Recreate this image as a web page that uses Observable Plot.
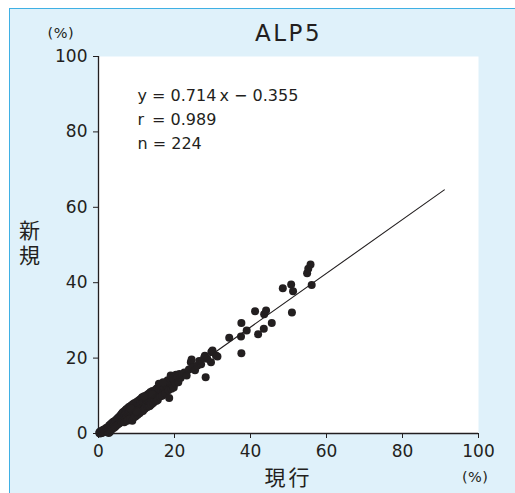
<!DOCTYPE html>
<html>
<head>
<meta charset="utf-8">
<script src="https://cdn.jsdelivr.net/npm/d3@7"></script>
<script src="https://cdn.jsdelivr.net/npm/@observablehq/plot@0.6"></script>
<style>
  html, body { margin: 0; padding: 0; background: #ffffff; }
  #wrap { position: relative; width: 515px; height: 493px; overflow: hidden; }
  #panel { position: absolute; left: 9px; top: 8px; width: 540px; height: 520px;
           background: #dff1fa; border-left: 1.5px solid #3fb0e4; border-top: 1.5px solid #3fb0e4; }
  #wrap svg { position: absolute; left: 0; top: 0; }
</style>
</head>
<body>
<div id="wrap"><div id="panel"></div></div>
<script>
const title = "ALP5";
const xLabel = "現行";
const yLabel = "新規";
const unitLabel = "(%)";
const xTicks = [0, 20, 40, 60, 80, 100];
const yTicks = [0, 20, 40, 60, 80, 100];
const slope = 0.714;
const intercept = -0.355;
const fitRange = [0.5, 91];
const statsLines = ["y = 0.714\u2009x \u2212 0.355", "r\u2002= 0.989", "n = 224"];

// 現行 (current method) values, %
const current = [
  0.2,0.3,0.4,0.5,0.6,0.7,0.8,0.9,1.0,1.1,1.2,1.3,1.4,1.5,1.6,1.7,1.8,1.9,2.0,2.1,2.2,2.3,2.4,2.5,2.6,
  2.7,2.7,2.8,2.9,3.0,3.0,3.1,3.2,3.3,3.4,3.5,3.6,3.7,3.8,3.9,4.0,4.1,4.2,4.3,4.4,4.5,4.6,4.7,4.8,4.9,5.0,5.1,5.2,5.3,5.4,5.5,5.6,5.7,5.8,5.9,6.0,6.0,
  6.1,6.2,6.3,6.4,6.5,6.6,6.7,6.8,6.9,7.0,7.1,7.2,7.3,7.4,7.5,7.6,7.7,7.8,7.9,8.0,8.1,8.2,8.3,8.4,8.5,8.6,8.7,8.8,8.9,9.0,9.1,9.2,9.3,9.4,9.5,9.6,9.7,9.8,9.9,10.0,
  10.1,10.2,10.3,10.4,10.5,10.6,10.7,10.8,10.9,11.0,11.1,11.2,11.3,11.4,11.5,11.6,11.7,11.8,11.9,12.0,12.1,12.2,12.3,12.4,12.5,12.6,12.7,12.8,12.9,13.0,13.1,13.2,13.3,13.4,13.5,13.6,13.7,13.8,13.9,
  14.0,14.2,14.4,14.6,14.8,15.0,15.2,15.4,15.6,15.8,
  15.9,16.0,16.2,16.4,16.6,16.8,17.0,17.2,17.4,17.6,17.8,18.0,18.2,18.4,18.6,18.8,19.0,19.2,19.4,19.6,19.8,20.0,20.2,20.4,20.6,20.8,21.0,21.3,21.6,22.0,
  22.6,23.2,23.8,24.3,24.5,24.8,25.4,26.0,26.5,27.0,27.8,28.0,28.2,28.6,29.6,29.7,30.0,30.9,31.3,34.4,37.5,37.6,37.6,39.0,42.0,43.5,45.6,43.6,44.1,41.2,48.5,50.7,51.2,50.9,54.9,55.2,55.8,56.1,
  8.5,12.0,17.0,10.0,14.1
];
// 新規 (new method) values, %
const proposed = [
  0.1,0.4,0.0,0.3,0.6,0.2,0.5,0.1,0.8,0.4,0.3,1.0,0.6,0.9,0.4,1.2,0.8,1.1,0.7,1.5,1.0,0.6,1.3,1.6,0.9,
  1.4,0.1,2.1,1.0,1.9,0.4,2.4,1.5,2.1,1.0,2.8,2.0,1.3,2.6,3.1,2.2,1.5,3.2,2.5,1.8,3.5,2.8,2.1,3.8,3.0,2.4,4.1,3.3,2.6,4.4,3.6,2.8,4.7,3.8,3.1,5.1,4.1,
  3.2,4.9,5.5,3.6,4.4,5.8,4.7,3.0,5.0,6.1,4.3,5.3,6.4,4.6,5.6,3.4,6.7,5.2,5.8,7.0,5.1,6.0,3.9,7.2,5.7,6.3,7.5,5.9,3.4,6.5,7.8,5.8,6.8,4.3,8.1,6.4,7.0,4.6,7.7,6.8,
  8.4,7.1,5.0,7.6,8.7,6.7,7.8,5.4,9.0,7.5,8.1,5.8,9.3,7.8,9.6,8.3,6.0,9.4,8.2,8.7,6.5,9.8,6.7,9.0,7.8,10.1,8.8,9.3,7.0,10.4,9.1,7.2,9.7,10.7,7.3,8.5,11.0,9.5,7.7,
  8.9,11.3,8.1,9.3,10.7,11.6,8.6,12.0,8.9,11.0,
  13.2,11.8,9.8,12.4,11.3,10.0,11.7,13.2,12.1,10.6,13.6,12.4,14.1,11.5,9.4,13.5,15.4,11.9,12.9,14.6,12.2,14.2,13.3,15.6,14.6,15.0,13.6,15.8,14.7,15.6,
  16.2,15.4,17.0,18.9,19.6,17.6,16.8,18.0,19.2,18.4,20.1,20.6,14.9,19.8,18.9,21.6,22.0,20.7,20.4,25.4,25.7,21.3,29.3,27.3,26.3,27.8,29.3,31.6,32.6,32.4,38.5,39.5,37.7,32.1,42.5,43.7,44.8,39.4,
  6.6,9.9,13.6,5.9,10.4
];

const points = current.map((x, i) => ({x, y: proposed[i]}));
const fit = fitRange.map(x => ({x, y: slope * x + intercept}));
const ink = "#231f20";

const chart = Plot.plot({
  width: 515,
  height: 493,
  marginLeft: 98,
  marginRight: 37,
  marginTop: 56,
  marginBottom: 60,
  style: {background: "transparent", fontFamily: "'DejaVu Sans', 'Noto Sans CJK JP', sans-serif", fontSize: "17px", color: ink, overflow: "visible"},
  x: {domain: [0, 100], ticks: xTicks},
  y: {domain: [0, 100], ticks: yTicks},
  marks: [
    Plot.frame({fill: "white", stroke: null}),
    Plot.axisX({ticks: xTicks, tickSize: 5, tickPadding: 6, label: null, stroke: ink, fill: ink, fontSize: 17}),
    Plot.axisY({ticks: yTicks, tickSize: 5, tickPadding: 6, label: null, stroke: ink, fill: ink, fontSize: 17}),
    Plot.ruleX([0], {stroke: ink, strokeWidth: 1.3}),
    Plot.ruleY([0], {stroke: ink, strokeWidth: 1.3}),
    Plot.dot(points, {x: "x", y: "y", r: 4, fill: ink, stroke: null}),
    Plot.line(fit, {x: "x", y: "y", stroke: ink, strokeWidth: 1.1}),
    Plot.text([statsLines.join("\n")], {frameAnchor: "top-left", dx: 39, dy: 27, textAnchor: "start", lineAnchor: "top", lineHeight: 1.5, fontSize: 16, fill: ink}),
    Plot.text([title], {frameAnchor: "top", dy: -16, lineAnchor: "bottom", fontSize: 23, fill: ink}),
    Plot.text([unitLabel], {frameAnchor: "top-left", dx: -51, dy: -19, lineAnchor: "bottom", fontSize: 14.5, fill: ink}),
    Plot.text([unitLabel], {frameAnchor: "bottom-right", dx: 10, dy: 48, lineAnchor: "bottom", fontSize: 14.5, fill: ink}),
    Plot.text([xLabel], {frameAnchor: "bottom", dy: 51, lineAnchor: "bottom", fontSize: 21, fill: ink, fontFamily: "'Noto Sans CJK JP', sans-serif"}),
    Plot.text([yLabel], {frameAnchor: "left", dx: -69, lineAnchor: "bottom", fontSize: 21, fill: ink, fontFamily: "'Noto Sans CJK JP', sans-serif"})
  ]
});
document.getElementById("wrap").appendChild(chart);

// typographic tweaks applied to the rendered text nodes
const texts = d3.select(chart).selectAll("text");
texts.filter(function() { return this.textContent === yLabel; })
  .attr("writing-mode", "tb")
  .attr("text-anchor", "middle")
  .style("writing-mode", "vertical-rl")
  .style("text-anchor", "middle")
  .style("letter-spacing", "4px");
texts.filter(function() { return this.textContent === xLabel; }).style("letter-spacing", "3px");
texts.filter(function() { return this.textContent === title; }).style("letter-spacing", "2.5px");
texts.filter(function() { return this.textContent === unitLabel; }).style("letter-spacing", "0.5px");
</script>
</body>
</html>
